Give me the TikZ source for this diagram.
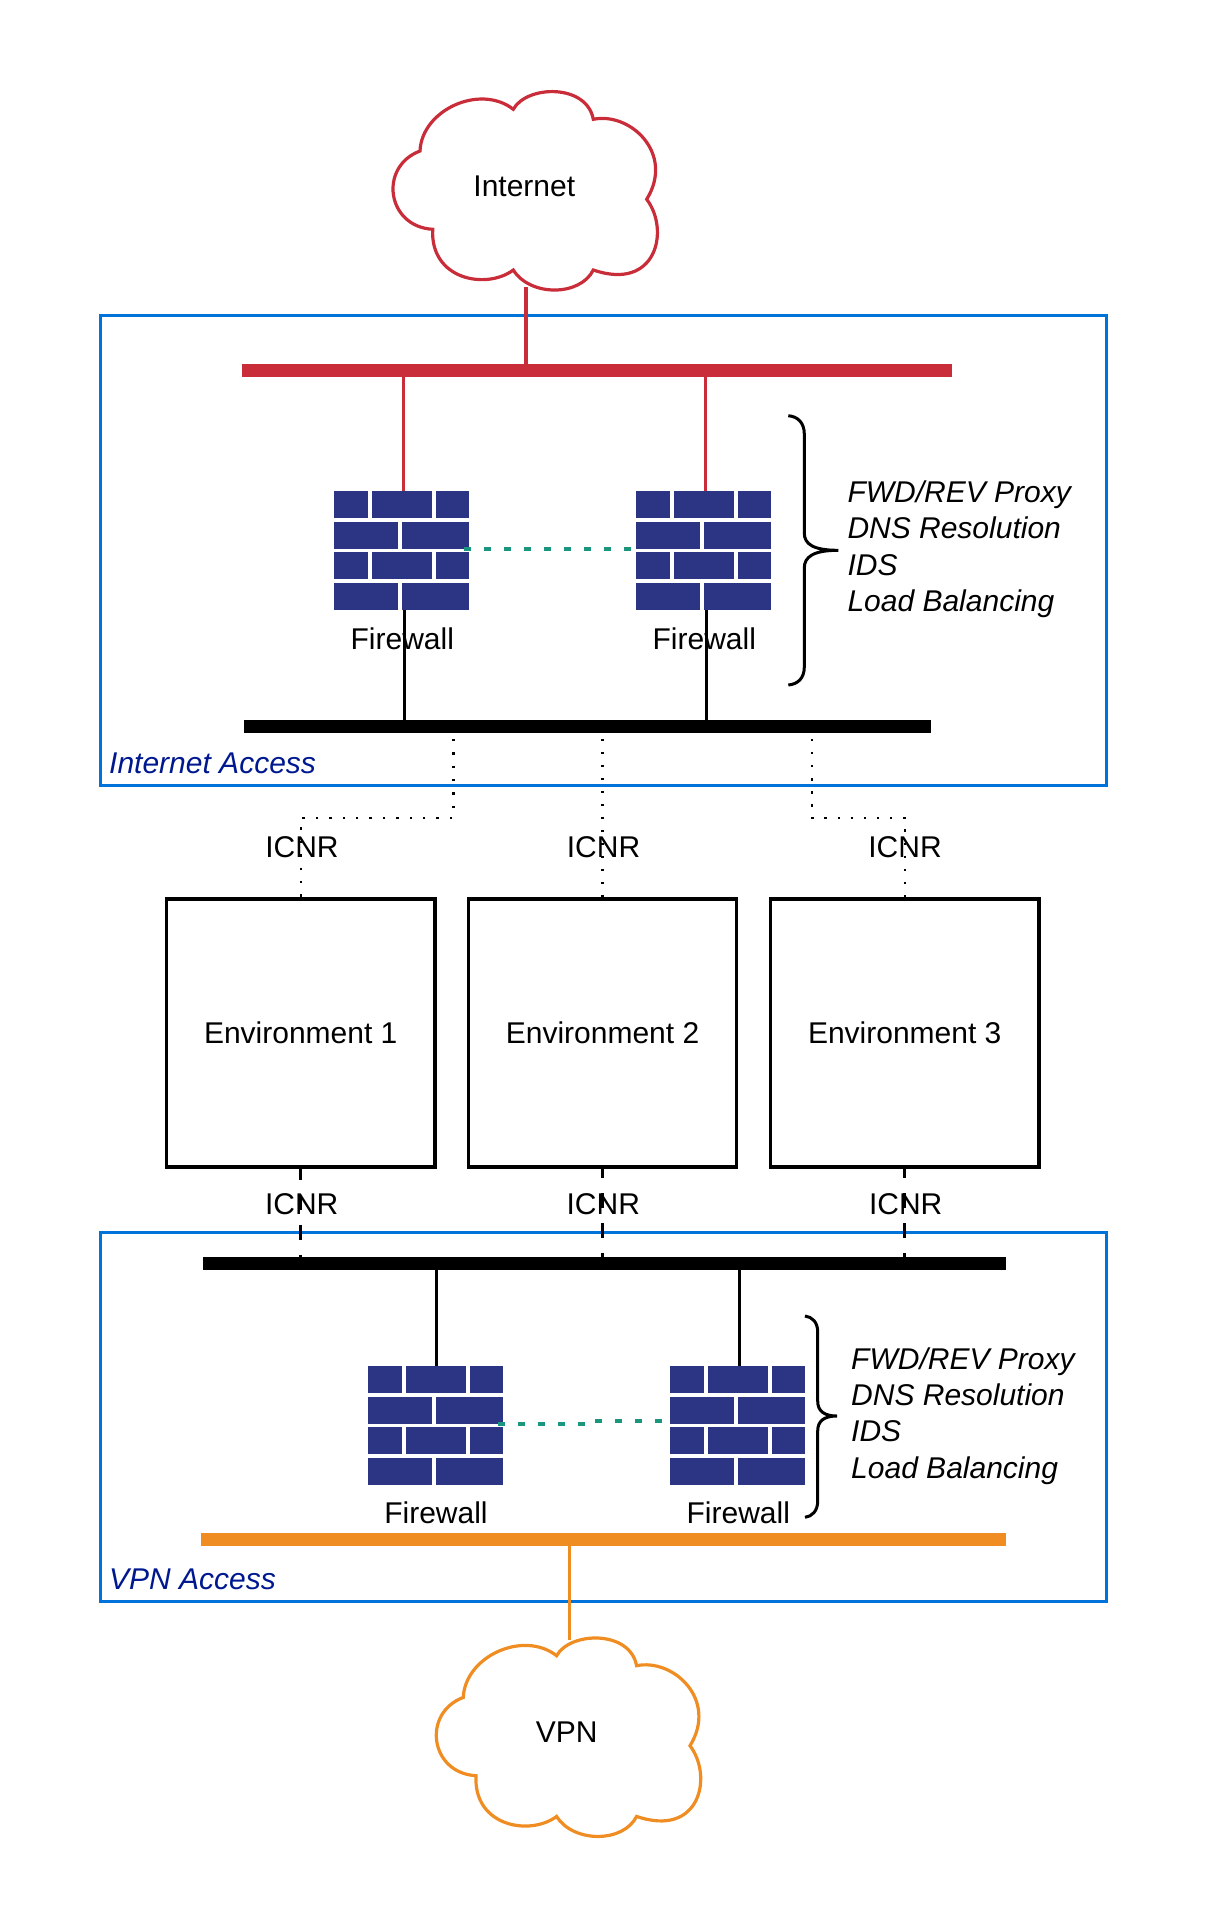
\documentclass[tikz,border=0pt]{standalone}
\usepackage{fontspec}
\setmainfont{Liberation Sans}
\usetikzlibrary{positioning}
\definecolor{netred}{RGB}{201,45,57}
\definecolor{netorange}{RGB}{239,141,34}
\definecolor{zoneblue}{RGB}{0,115,218}
\definecolor{zonelabel}{RGB}{0,24,143}
\definecolor{bricknavy}{RGB}{43,53,131}
\definecolor{linkteal}{RGB}{25,150,125}
\tikzset{
	every node/.style={font=\fontsize{30}{36.2}\selectfont},
	zonebox/.style={rectangle,draw=zoneblue,line width=3pt,inner sep=0pt,outer sep=0pt},
	busbar/.style={rectangle,inner sep=0pt,outer sep=0pt,minimum height=13pt},
	envbox/.style={rectangle,draw,line width=3.3pt,inner sep=0pt,outer sep=0pt,minimum width=268.5pt,minimum height=268pt},
	fwbox/.style={rectangle,inner sep=0pt,outer sep=0pt,minimum width=135pt,minimum height=119pt},
	baselabel/.style={anchor=base,inner sep=0pt},
	zonelabeltext/.style={anchor=base west,inner sep=0pt,text=zonelabel,font=\fontsize{30}{36.2}\selectfont\itshape},
	tasklist/.style={anchor=west,align=left,inner sep=0pt,font=\fontsize{30}{36.2}\selectfont\itshape},
	bracket/.style={line width=3pt},
	synclink/.style={linkteal,line width=4pt,dash pattern=on 7pt off 13pt},
	icnrdots/.style={line width=2.5pt,dash pattern=on 2.5pt off 10.9pt,dash phase=7.65pt},
	icnrdash/.style={line width=3pt,dash pattern=on 15pt off 15pt,dash phase=4pt},
	cloudpic/.pic={
		\draw[line width=3.2pt,pic actions] (420,151) .. controls (421.7,110) and (480,83.3) .. (513.3,109.3)
			.. controls (526.7,85) and (586.7,83.3) .. (593.3,119.3)
			.. controls (630,111.7) and (675,153.3) .. (646.7,199.3)
			.. controls (670,230) and (656.7,291.7) .. (593.3,270)
			.. controls (580,296.7) and (530,296.7) .. (513.3,270)
			.. controls (486.7,290) and (430,280) .. (432.7,229.3)
			.. controls (386.7,226.7) and (378.3,166.7) .. cycle;
	},
	firewallpic/.pic={
		\node[fwbox] (-box) at (67.5,59.5) {};
		\foreach \yb in {0,61}
			\foreach \xa/\xb in {0/34,38/98,102/135}
				\fill[bricknavy] (\xa,\yb) rectangle (\xb,\yb+27);
		\foreach \yb in {31,92}
			\foreach \xa/\xb in {0/64,68/135}
				\fill[bricknavy] (\xa,\yb) rectangle (\xb,\yb+27);
	}
}
\begin{document}
\begin{tikzpicture}[x=1pt,y=-1pt]
	\useasboundingbox (0,0) rectangle (1225,1922);

	\node[zonebox,minimum width=1005.3pt,minimum height=470pt] (inetzone) at (603.35,550.2) {};
	\node[zonebox,minimum width=1005.3pt,minimum height=369pt] (vpnzone) at (603.35,1416.8) {};
	\node[zonelabeltext] (inetlabel) at (109,773.3) {Internet Access};
	\node[zonelabeltext] (vpnlabel) at (109,1589.3) {VPN Access};

	\pic[draw=netred] at (0,0) {cloudpic};
	\pic[draw=netorange] at (43.3,1546.4) {cloudpic};
	\node[baselabel] (internet) at (524.3,196) {Internet};
	\node[baselabel] (vpn) at (566.7,1742.3) {VPN};
	\coordinate (inettap) at (525.7,287);
	\coordinate (vpntap) at (569.3,1640);

	\node[busbar,fill=netred,minimum width=710.2pt] (redbus) at (596.9,370.5) {};
	\node[busbar,fill=black,minimum width=686.7pt] (inetbus) at (587.65,726.5) {};
	\node[busbar,fill=black,minimum width=802.5pt] (vpnbus) at (604.25,1263) {};
	\node[busbar,fill=netorange,minimum width=804.5pt] (orangebus) at (603.25,1539.5) {};

	\pic (fwa) at (334,491) {firewallpic};
	\pic (fwb) at (636,491) {firewallpic};
	\pic (fwc) at (368,1366) {firewallpic};
	\pic (fwd) at (670,1366) {firewallpic};
	\node[baselabel] (fwalabel) at (402.3,649.3) {Firewall};
	\node[baselabel] (fwblabel) at (704.3,649.3) {Firewall};
	\node[baselabel] (fwclabel) at (436,1523.3) {Firewall};
	\node[baselabel] (fwdlabel) at (738.3,1523.3) {Firewall};

	\node[envbox] (enva) at (300.75,1033) {Environment 1};
	\node[envbox] (envb) at (602.55,1033) {Environment 2};
	\node[envbox] (envc) at (904.75,1033) {Environment 3};
	\node[baselabel] (icnra) at (302,857.3) {ICNR};
	\node[baselabel] (icnrb) at (603.5,857.3) {ICNR};
	\node[baselabel] (icnrc) at (905,857.3) {ICNR};
	\node[baselabel] (icnrd) at (301.7,1214.3) {ICNR};
	\node[baselabel] (icnre) at (603.3,1214.3) {ICNR};
	\node[baselabel] (icnrf) at (905.7,1214.3) {ICNR};

	\draw[netred,line width=4pt] (inettap) -- (inettap |- redbus.north);
	\draw[netorange,line width=3.3pt] (vpntap) -- (vpntap |- orangebus.south);
	\draw[netred,line width=3pt] ([xshift=1.8pt]fwa-box.north) -- ([xshift=1.8pt]fwa-box.north |- redbus.south);
	\draw[netred,line width=3pt] ([xshift=1.8pt]fwb-box.north) -- ([xshift=1.8pt]fwb-box.north |- redbus.south);
	\draw[line width=3pt] ([xshift=2.8pt]fwa-box.south) -- ([xshift=2.8pt]fwa-box.south |- inetbus.north);
	\draw[line width=3pt] ([xshift=2.8pt]fwb-box.south) -- ([xshift=2.8pt]fwb-box.south |- inetbus.north);
	\draw[line width=3pt] ([xshift=1.2pt]fwc-box.north) -- ([xshift=1.2pt]fwc-box.north |- vpnbus.south);
	\draw[line width=3pt] ([xshift=1.5pt]fwd-box.north) -- ([xshift=1.5pt]fwd-box.north |- vpnbus.south);

	\coordinate (synca) at (586,1424);
	\coordinate (syncb) at (586,1421.3);
	\draw[synclink] ([xshift=-5pt,yshift=1.5pt]fwa-box.east) -- ([xshift=3pt,yshift=1.5pt]fwb-box.west);
	\draw[synclink] ([xshift=-5pt,yshift=1.5pt]fwc-box.east) -- (synca) -- (syncb) -- (fwd-box.west |- syncb);

	\coordinate (dotleft) at (453.4,818);
	\coordinate (dotright) at (812,818);
	\draw[icnrdots] (dotleft |- inetbus.south) -- (dotleft) -- (dotleft -| enva.north) -- (enva.north);
	\draw[icnrdots,dash pattern=on 2.5pt off 10.5pt,dash phase=7.25pt] (envb.north |- inetbus.south) -- (envb.north);
	\draw[icnrdots,dash pattern=on 2.5pt off 10.6pt,dash phase=7.35pt] (dotright |- inetbus.south) -- (dotright) -- (dotright -| envc.north) -- (envc.north);

	\draw[icnrdash,dash phase=2pt] (enva.south) -- (enva.south |- vpnbus.north);
	\draw[icnrdash,line width=2.7pt] (envb.south) -- (envb.south |- vpnbus.north);
	\draw[icnrdash] (envc.south) -- (envc.south |- vpnbus.north);

	\draw[bracket] (788.3,415.7) .. controls (798,416.5) and (804.3,423) .. (804.3,434) -- (804.3,533)
		.. controls (804.3,544) and (813,550.3) .. (838.3,550.3) .. controls (813,550.3) and (804.3,557) .. (804.3,568)
		-- (804.3,667) .. controls (804.3,678) and (798,684.2) .. (788.3,685);
	\draw[bracket] (805,1316) .. controls (812,1316.8) and (817.7,1322) .. (817.7,1332) -- (817.7,1401)
		.. controls (817.7,1411) and (824,1416) .. (837,1416) .. controls (824,1416) and (817.7,1421) .. (817.7,1431)
		-- (817.7,1501) .. controls (817.7,1511) and (812,1516.5) .. (805,1517.3);

	\node[tasklist] (inettasks) at (847.3,549.2) {FWD/REV Proxy\\DNS Resolution\\IDS\\Load Balancing};
	\node[tasklist] (vpntasks) at (851,1416) {FWD/REV Proxy\\DNS Resolution\\IDS\\Load Balancing};
\end{tikzpicture}
\end{document}
